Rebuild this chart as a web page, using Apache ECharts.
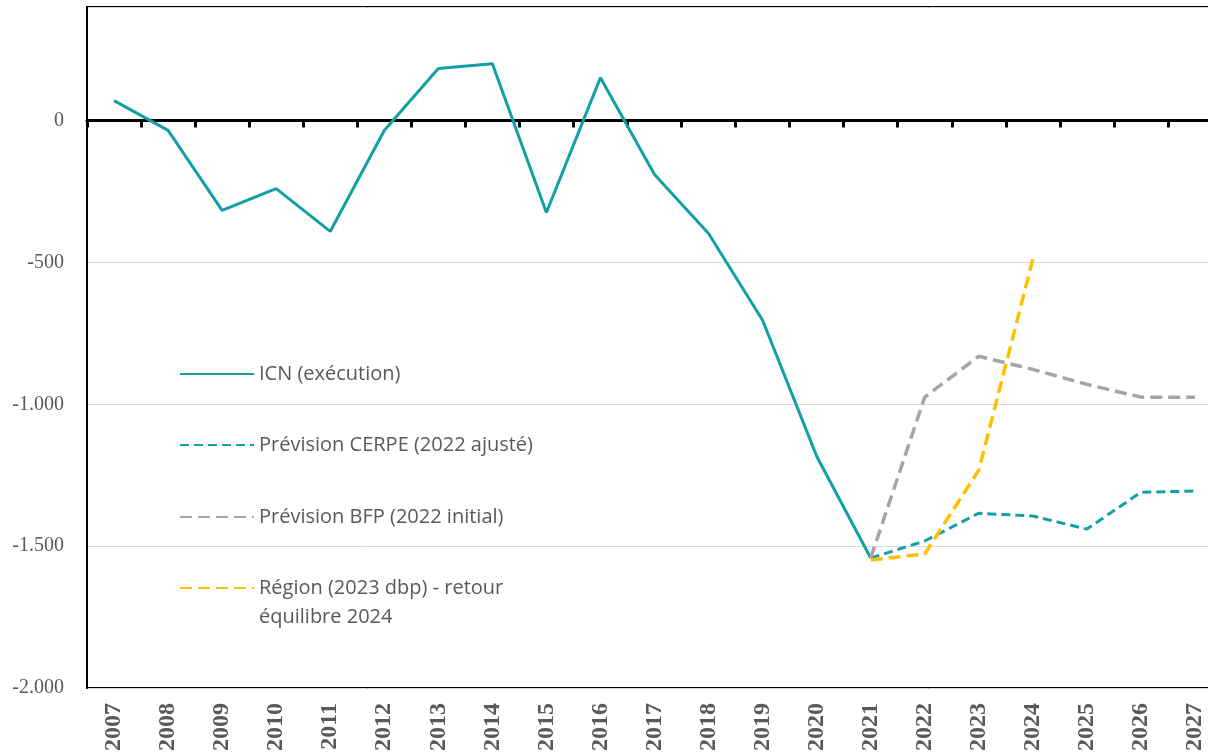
<!DOCTYPE html>
<html>
<head>
<meta charset="utf-8">
<script src="https://cdn.jsdelivr.net/npm/echarts@6/dist/echarts.min.js"></script>
<style>
  html, body { margin: 0; padding: 0; background: #fff; }
  #chart { width: 1208px; height: 754px; }
</style>
</head>
<body>
<div id="chart"></div>
<script>
var years = ['2007', '2008', '2009', '2010', '2011', '2012', '2013', '2014', '2015', '2016', '2017',
             '2018', '2019', '2020', '2021', '2022', '2023', '2024', '2025', '2026', '2027'];

var icn   = [70, -35, -317, -240, -391, -35, 183, 200, -324, 151, -190, -398, -704, -1183, -1542,
             null, null, null, null, null, null];
var cerpe = [null, null, null, null, null, null, null, null, null, null, null, null, null, null,
             -1542, -1482, -1384, -1394, -1440, -1310, -1306];
var bfp   = [null, null, null, null, null, null, null, null, null, null, null, null, null, null,
             -1542, -975, -831, -877, -930, -975, -975];
var region = [null, null, null, null, null, null, null, null, null, null, null, null, null, null,
             -1549, -1528, -1232, -489, null, null, null];

var names = ['ICN (exécution)', 'Prévision CERPE (2022 ajusté)', 'Prévision BFP (2022 initial)',
             'Région (2023 dbp) - retour équilibre 2024'];

var myChart = echarts.init(document.getElementById('chart'));

function fmtNum(v) {
    var s = String(Math.abs(v)).replace(/\B(?=(\d{3})+(?!\d))/g, '.');
    return (v < 0 ? '-' : '') + s;
}

// one legend per item so each can be placed like the original
var legendCenters = [369, 440, 512, 583];
var legends = names.map(function (n, i) {
    var last = i === names.length - 1;
    return {
        orient: 'vertical',
        left: 174,
        top: last ? legendCenters[i] - 43.5 : legendCenters[i] - 14.5,
        itemWidth: 74,
        itemHeight: 14,
        selectedMode: false,
        itemStyle: {opacity: 0},
        data: [n],
        formatter: function (name) {
            // blank first line keeps the icon level with the first text line
            return name === names[3] ? '\nRégion (2023 dbp) - retour\néquilibre 2024' : name;
        },
        textStyle: {
            fontFamily: 'Open Sans',
            fontSize: 20,
            color: '#595959',
            lineHeight: 29
        }
    };
});

var option = {
    animation: false,
    legend: legends,
    grid: {
        left: 87,
        top: 7,
        height: 681,
        width: 1135,
        outerBoundsMode: 'none',
        show: true,
        borderColor: '#000',
        borderWidth: 2
    },
    xAxis: [{
        type: 'category',
        data: years,
        axisLine: {onZero: true, lineStyle: {color: '#000', width: 3}},
        axisTick: {show: true, length: 7, interval: 0, lineStyle: {color: '#000', width: 3}},
        axisLabel: {show: false},
        splitLine: {show: false}
    }, {
        type: 'category',
        data: years,
        position: 'bottom',
        axisLine: {show: false, onZero: false},
        axisTick: {show: false},
        axisLabel: {
            interval: 0,
            rotate: 90,
            margin: 15,
            fontFamily: 'Liberation Serif',
            fontWeight: 'bold',
            fontSize: 24,
            color: '#595959'
        }
    }],
    yAxis: {
        type: 'value',
        min: -2000,
        max: 400,
        interval: 500,
        axisLine: {show: true, lineStyle: {color: '#000', width: 2}},
        axisTick: {show: false},
        axisLabel: {
            showMaxLabel: false,
            margin: 23,
            fontFamily: 'Liberation Serif',
            fontSize: 20,
            color: '#595959',
            formatter: fmtNum
        },
        splitLine: {lineStyle: {color: '#D9D9D9', width: 1}}
    },
    series: [{
        name: names[0],
        type: 'line',
        symbol: 'none',
        data: icn,
        lineStyle: {color: '#12A0A5', width: 3},
        itemStyle: {color: '#12A0A5'}
    }, {
        name: names[1],
        type: 'line',
        symbol: 'none',
        data: cerpe,
        lineStyle: {color: '#12A0A5', width: 3, type: [9, 5]},
        itemStyle: {color: '#12A0A5'}
    }, {
        name: names[2],
        type: 'line',
        symbol: 'none',
        data: bfp,
        lineStyle: {color: '#A5A5A5', width: 3.5, type: [12, 6]},
        itemStyle: {color: '#A5A5A5'}
    }, {
        name: names[3],
        type: 'line',
        symbol: 'none',
        data: region,
        lineStyle: {color: '#FFC000', width: 3.5, type: [12, 6]},
        itemStyle: {color: '#FFC000'}
    }]
};

myChart.setOption(option);
</script>
</body>
</html>
